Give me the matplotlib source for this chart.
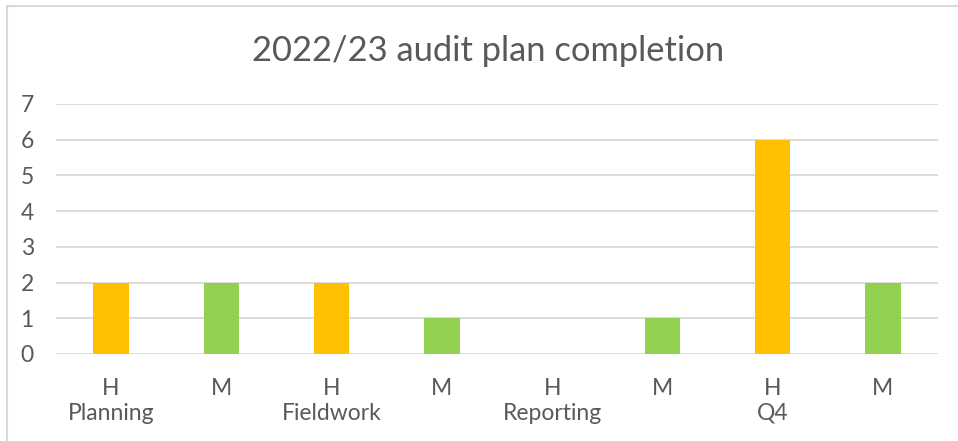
import matplotlib
matplotlib.use("Agg")
import matplotlib.pyplot as plt
from matplotlib.lines import Line2D

categories = ["H", "M", "H", "M", "H", "M", "H", "M"]
groups = ["Planning", "Fieldwork", "Reporting", "Q4"]
values = [2, 2, 2, 1, 0, 1, 6, 2]
colors = ["#FFC000", "#92D050"] * 4
title = "2022/23 audit plan completion"

W, H = 958, 441
fig = plt.figure(figsize=(W / 100, H / 100), dpi=100)
plt.rcParams['font.family'] = ['Lato', 'DejaVu Sans']
txt = "#595959"

ax = fig.add_axes([56 / W, 1 - 354 / H, (938 - 56) / W, (354 - 104) / H])
x = list(range(len(values)))
ax.bar(x, values, width=0.32, color=colors, zorder=3)
ax.set_xlim(-0.5, len(values) - 0.5)
ax.set_ylim(0, 7)
ax.set_yticks(range(0, 8))
ax.yaxis.grid(True, color="#D9D9D9", linewidth=1.3, zorder=0)
ax.set_axisbelow(True)
for s in ["top", "right", "left", "bottom"]:
    ax.spines[s].set_visible(False)
ax.tick_params(axis="y", length=0, pad=16, labelsize=16.5, labelcolor=txt)
ax.tick_params(axis="x", length=0, pad=17.5, labelsize=16.5, labelcolor=txt)
ax.set_xticks(x)
ax.set_xticklabels(categories)
for i, g in enumerate(groups):
    ax.text(2 * i, -(413 - 354) / 250, g, transform=ax.get_xaxis_transform(), ha="center",
            va="center", fontsize=16.5, color=txt)

fig.text(488 / W, 1 - 51 / H, title, ha="center", va="center", fontsize=24.8, color=txt)

# chart frame
fig.add_artist(Line2D([7 / W, 7 / W], [0, 1 - 6 / H], transform=fig.transFigure,
                      color="#D9D9D9", linewidth=1.5))
fig.add_artist(Line2D([7 / W, 1], [1 - 6 / H, 1 - 6 / H], transform=fig.transFigure,
                      color="#D9D9D9", linewidth=1.5))

fig.savefig("out.png", dpi=100, facecolor="white")
